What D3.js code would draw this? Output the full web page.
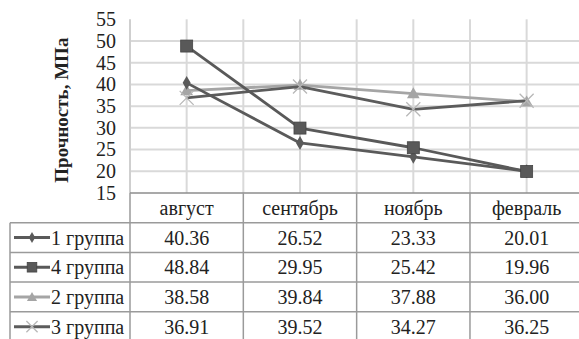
<!DOCTYPE html>
<html><head><meta charset="utf-8">
<script src="https://cdn.jsdelivr.net/npm/d3@7"></script>
</head><body style="margin:0">
<svg id="c" width="579" height="339"></svg>
<script>
const categories = ["август","сентябрь","ноябрь","февраль"];
const seriesNames = ["1 группа","4 группа","2 группа","3 группа"];
const g1 = [40.36, 26.52, 23.33, 20.01];
const g4 = [48.84, 29.95, 25.42, 19.96];
const g2 = [38.58, 39.84, 37.88, 36.00];
const g3 = [36.91, 39.52, 34.27, 36.25];
const yTicks = [15,20,25,30,35,40,45,50,55];
const yTitle = "Прочность, МПа";

const series = [
  {name: seriesNames[0], values: g1, color: "#5a5a5a", marker: "diamond"},
  {name: seriesNames[1], values: g4, color: "#595959", marker: "square"},
  {name: seriesNames[2], values: g2, color: "#a5a5a5", marker: "triangle"},
  {name: seriesNames[3], values: g3, color: "#5c5c5c", marker: "x"}
];

const svg = d3.select("#c");
const L = 130, R = 583.3, T = 19.3, B = 193;
const rowH = 29.7;
const tableLeft = 10;
const txt = (sel, size, bold) => sel.style("font-family", '"Liberation Serif"').style("font-size", size + "px").style("font-weight", bold ? "bold" : "normal");

const x = d3.scaleBand().domain(categories).range([L, R]).padding(0);
const y = d3.scaleLinear().domain([15, 55]).range([B, T]);
const cx = c => x(c) + x.bandwidth()/2;

svg.append("g").selectAll("line").data(yTicks.filter(t => t > 15 && t < 55)).join("line")
  .attr("x1", L).attr("x2", R).attr("y1", d => y(d)).attr("y2", d => y(d))
  .attr("stroke", "#d9d9d9").attr("stroke-width", 2);
svg.append("g").selectAll("line").data(categories).join("line")
  .attr("x1", d => cx(d)).attr("x2", d => cx(d)).attr("y1", T).attr("y2", B)
  .attr("stroke", "#d9d9d9").attr("stroke-width", 2);
svg.append("g").selectAll("line").data(categories.slice(1)).join("line")
  .attr("x1", d => x(d)).attr("x2", d => x(d)).attr("y1", T).attr("y2", B)
  .attr("stroke", "#d9d9d9").attr("stroke-width", 2);
svg.append("line").attr("x1", L).attr("x2", L).attr("y1", T).attr("y2", B)
  .attr("stroke", "#cfcfcf").attr("stroke-width", 2);

const yAxis = d3.axisLeft(y).tickValues(yTicks).tickSize(0).tickPadding(14);
const ya = svg.append("g").attr("transform", `translate(${L},0)`).call(yAxis);
ya.select(".domain").remove();
ya.attr("font-family", null).attr("font-size", null);
txt(ya.selectAll("text"), 20).style("fill", "#222");

txt(svg.append("text").attr("transform", `translate(68,${(T+B)/2+4}) rotate(-90)`)
  .attr("text-anchor", "middle"), 19, true).style("fill", "#222").text(yTitle);

const tg = svg.append("g");
const tableBottom = B + rowH*5;
const lineCol = "#9a9a9a";
for (let i = 0; i <= 5; i++) {
  const yy = B + rowH*i;
  tg.append("line").attr("x1", i === 0 ? L : tableLeft).attr("x2", R)
    .attr("y1", yy).attr("y2", yy).attr("stroke", i === 0 ? "#8c8c8c" : lineCol).attr("stroke-width", 1.5);
}
tg.append("line").attr("x1", tableLeft).attr("x2", tableLeft).attr("y1", B+rowH).attr("y2", tableBottom)
  .attr("stroke", lineCol).attr("stroke-width", 1.5);
tg.append("line").attr("x1", L).attr("x2", L).attr("y1", B).attr("y2", tableBottom)
  .attr("stroke", lineCol).attr("stroke-width", 1.5);
categories.slice(1).forEach(c => {
  tg.append("line").attr("x1", x(c)).attr("x2", x(c)).attr("y1", B).attr("y2", tableBottom)
    .attr("stroke", lineCol).attr("stroke-width", 1.5);
});
txt(tg.selectAll("text.h").data(categories).join("text").attr("class","h")
  .attr("x", d => cx(d)).attr("y", B + rowH/2 + 7).attr("text-anchor", "middle"), 20)
  .style("fill", "#222").text(d => d);

function marker(g, type, color, px, py, small) {
  const s = small ? 0.8 : 1;
  if (type === "diamond") {
    g.append("path").attr("d", d3.symbol(d3.symbolDiamond, 55*s*s)()).attr("transform", `translate(${px},${py})`).attr("fill", color);
  } else if (type === "square") {
    const a = 12*s;
    g.append("rect").attr("x", px-a/2).attr("y", py-a/2).attr("width", a).attr("height", a)
      .attr("fill", color).attr("stroke", "#444").attr("stroke-width", 0.8);
  } else if (type === "triangle") {
    g.append("path").attr("d", d3.symbol(d3.symbolTriangle, 70*s*s)()).attr("transform", `translate(${px},${py+1})`).attr("fill", color);
  } else if (type === "x") {
    const a = 7*s;
    g.append("path").attr("d", `M${px-a},${py-a}L${px+a},${py+a}M${px-a},${py+a}L${px+a},${py-a}`)
      .attr("stroke", "#b8b8b8").attr("stroke-width", 1.3).attr("fill", "none");
  }
}

series.forEach((s, i) => {
  const ry = B + rowH*(i+1) + rowH/2;
  tg.append("line").attr("x1", 14).attr("x2", 50).attr("y1", ry).attr("y2", ry)
    .attr("stroke", s.color).attr("stroke-width", 3);
  marker(tg, s.marker, s.color, 32, ry, true);
  txt(tg.append("text").attr("x", 51).attr("y", ry + 7), 20).style("fill", "#222").text(s.name);
  txt(tg.selectAll(null).data(s.values).join("text")
    .attr("x", (d, j) => cx(categories[j])).attr("y", ry + 7).attr("text-anchor", "middle"), 20)
    .style("fill", "#222").text(d => d.toFixed(2));
});

const line = d3.line().x((d, j) => cx(categories[j])).y(d => y(d));
const pg = svg.append("g");
[2, 3, 0, 1].forEach(i => {
  const s = series[i];
  pg.append("path").datum(s.values).attr("d", line).attr("fill", "none")
    .attr("stroke", s.color).attr("stroke-width", 2.8).attr("stroke-linejoin", "round");
  s.values.forEach((v, j) => marker(pg, s.marker, s.color, cx(categories[j]), y(v), false));
});
</script>
</body></html>
